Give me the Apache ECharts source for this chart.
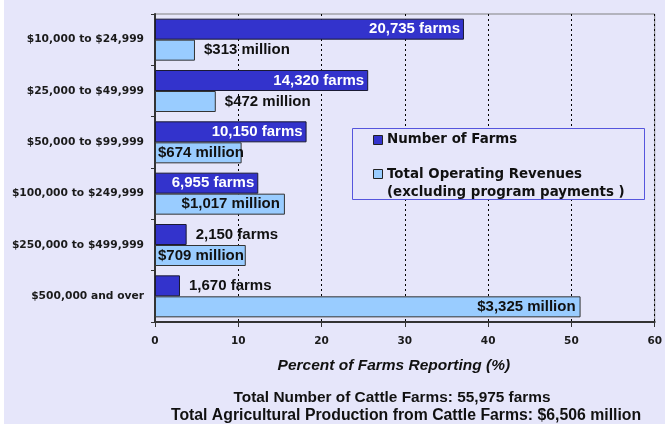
<!DOCTYPE html>
<html>
<head>
<meta charset="utf-8">
<script src="https://cdn.jsdelivr.net/npm/echarts@6/dist/echarts.min.js"></script>
<style>
html,body{margin:0;padding:0;background:#fff;}
#c{width:665px;height:424px;background:linear-gradient(to right,#ffffff 4px,#E6E6FA 4px);}
</style>
</head>
<body>
<div id="c"></div>
<script>
const categories = ['$10,000 to $24,999','$25,000 to $49,999','$50,000 to $99,999','$100,000 to $249,999','$250,000 to $499,999','$500,000 and over'];
const farmsPct = [37.1, 25.6, 18.2, 12.4, 3.8, 3.0];
const farmsLabels = ['20,735 farms','14,320 farms','10,150 farms','6,955 farms','2,150 farms','1,670 farms'];
const revenuePct = [4.8, 7.3, 10.4, 15.6, 10.9, 51.1];
const revenueLabels = ['$313 million','$472 million','$674 million','$1,017 million','$709 million','$3,325 million'];
const seriesNames = ['Number of Farms','Total Operating Revenues'];
const legendNote = '(excluding program payments )';
const xTicks = [0,10,20,30,40,50,60];
const xTitle = 'Percent of Farms Reporting (%)';
const footer1 = 'Total Number of Cattle Farms: 55,975 farms';
const footer2 = 'Total Agricultural Production from Cattle Farms: $6,506 million';

const DARK = '#3333CC', LIGHT = '#99CCFF';
const labelFont = {fontFamily:'Liberation Sans, Arial, sans-serif', fontWeight:'bold', fontSize:15};

function farmItem(v,i){
  const inside = v > 8;
  return {value:v, label:Object.assign({show:true, formatter:farmsLabels[i],
    position: inside ? 'insideRight' : 'right', distance: inside ? 4 : 9,
    color: inside ? '#ffffff' : '#111111'}, labelFont)};
}
function revItem(v,i){
  let pos, dist;
  if (v < 8) { pos='right'; dist=9; }
  else if (v > 12) { pos='insideRight'; dist=5; }
  else { pos='insideLeft'; dist=3; }
  return {value:v, label:Object.assign({show:true, formatter:revenueLabels[i], position:pos, distance:dist, color:'#111111'}, labelFont)};
}

const chart = echarts.init(document.getElementById('c'), null, {renderer:'canvas'});
const legendFont = {fontFamily:'DejaVu Sans', fontWeight:'bold', fontSize:13.4, fill:'#111', verticalAlign:'middle'};
chart.setOption({
  animation:false,
  grid:{left:155, right:8, top:14, bottom:102, show:true, borderColor:'#808080', borderWidth:1, containLabel:false},
  xAxis:{type:'value', min:xTicks[0], max:xTicks[xTicks.length-1], interval:10,
    name:xTitle, nameLocation:'middle', nameGap:36,
    nameTextStyle:{fontFamily:'Liberation Sans, Arial, sans-serif', fontWeight:'bold', fontStyle:'italic', fontSize:15.5, color:'#111', padding:[0,22,0,0]},
    axisLine:{show:true, lineStyle:{color:'#333', width:2}},
    axisTick:{show:true, length:5, lineStyle:{color:'#333'}},
    axisLabel:{margin:14, fontFamily:'DejaVu Sans', fontWeight:'bold', fontSize:10.5, color:'#1a1a1a'},
    splitLine:{show:true, lineStyle:{type:[2,3], color:'#000', width:1}}
  },
  yAxis:{type:'category', data:categories, inverse:true,
    axisLine:{show:true, lineStyle:{color:'#333', width:2}},
    axisTick:{show:true, length:4, alignWithLabel:false, lineStyle:{color:'#333'}},
    axisLabel:{margin:11, fontFamily:'DejaVu Sans', fontWeight:'bold', fontSize:10.7, color:'#1a1a1a'},
    splitLine:{show:false}
  },
  series:[
    {name:seriesNames[0], type:'bar', barWidth:21, barGap:'0%', data:farmsPct.map(farmItem),
     itemStyle:{color:DARK, borderColor:'#1a1a33', borderWidth:1}},
    {name:seriesNames[1], type:'bar', barWidth:21, barGap:'0%', data:revenuePct.map(revItem),
     itemStyle:{color:LIGHT, borderColor:'#333', borderWidth:1}}
  ],
  graphic:[
    {type:'rect', shape:{x:352.5, y:128.5, width:292, height:71}, style:{fill:'#E6E6FA', stroke:'#5555DD', lineWidth:1}, z:100},
    {type:'rect', shape:{x:373.5, y:135.5, width:9, height:9}, style:{fill:DARK, stroke:'#222', lineWidth:1}, z:101},
    {type:'text', x:387, y:140, style:Object.assign({text:seriesNames[0]}, legendFont), z:101},
    {type:'rect', shape:{x:373.5, y:169.5, width:9, height:9}, style:{fill:LIGHT, stroke:'#222', lineWidth:1}, z:101},
    {type:'text', x:387, y:175, style:Object.assign({text:seriesNames[1]}, legendFont), z:101},
    {type:'text', x:387, y:193, style:Object.assign({text:legendNote}, legendFont), z:101},
    {type:'text', x:392, y:398, style:{text:footer1, fontFamily:'Liberation Sans, Arial, sans-serif', fontWeight:'bold', fontSize:15.4, fill:'#111', align:'center', verticalAlign:'middle'}},
    {type:'text', x:406, y:416, style:{text:footer2, fontFamily:'Liberation Sans, Arial, sans-serif', fontWeight:'bold', fontSize:15.8, fill:'#111', align:'center', verticalAlign:'middle'}}
  ]
});
</script>
</body>
</html>
